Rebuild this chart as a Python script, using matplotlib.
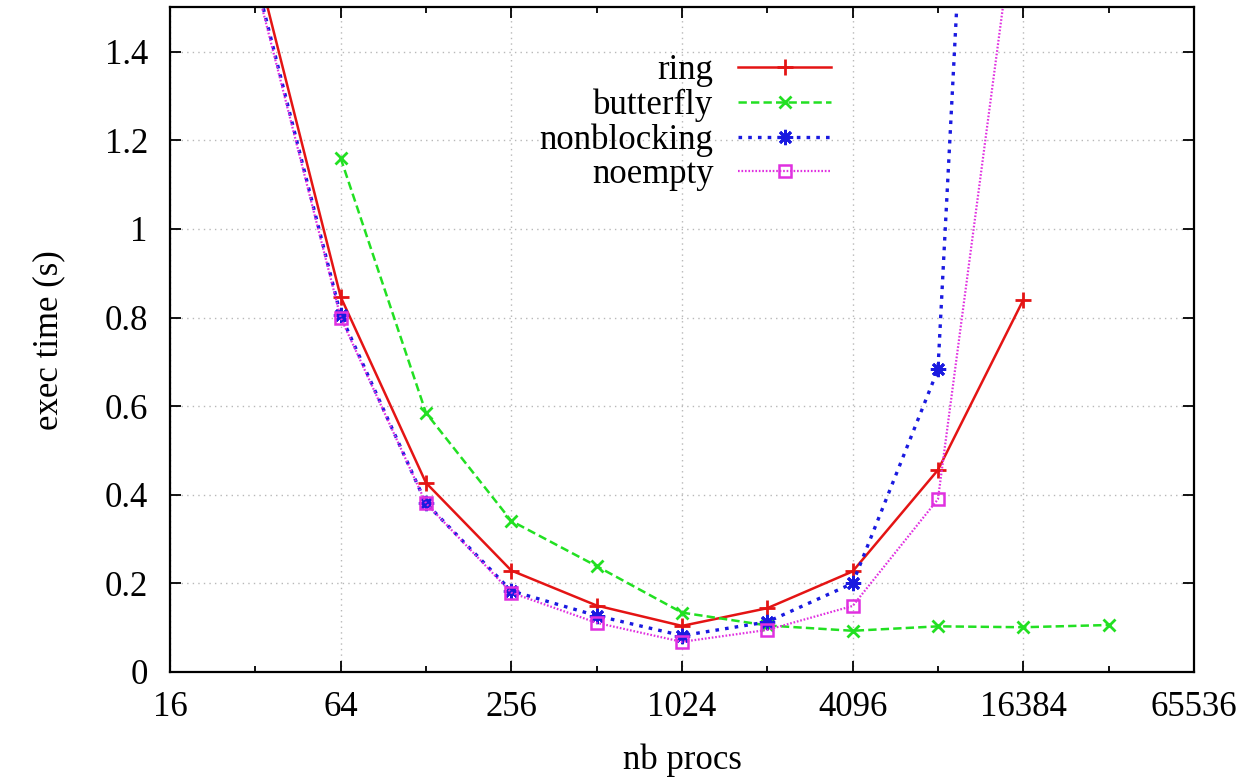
import numpy as np
import matplotlib
matplotlib.use("Agg")
from matplotlib import pyplot as plt
from matplotlib.ticker import FixedLocator, FuncFormatter

plt.rcParams['font.family'] = ['Liberation Serif', 'DejaVu Serif']
plt.rcParams['lines.scale_dashes'] = False

# data (exec time in seconds)
ring_x = [32, 64, 128, 256, 512, 1024, 2048, 4096, 8192, 16384]
ring_y = [1.61, 0.847, 0.427, 0.229, 0.150, 0.104, 0.144, 0.227, 0.456, 0.840]

butterfly_x = [64, 128, 256, 512, 1024, 2048, 4096, 8192, 16384, 32768]
butterfly_y = [1.160, 0.585, 0.341, 0.239, 0.134, 0.105, 0.093, 0.103, 0.101, 0.106]

nonblocking_x = [32, 64, 128, 256, 512, 1024, 2048, 4096, 8192, 16384]
nonblocking_y = [1.57, 0.806, 0.381, 0.183, 0.127, 0.082, 0.113, 0.200, 0.683, 4.4]

noempty_x = [32, 64, 128, 256, 512, 1024, 2048, 4096, 8192, 16384]
noempty_y = [1.56, 0.800, 0.381, 0.179, 0.111, 0.068, 0.095, 0.149, 0.390, 1.85]

xticks = [16, 64, 256, 1024, 4096, 16384, 65536]
xminor = [32, 128, 512, 2048, 8192, 32768]
yticks = [0, 0.2, 0.4, 0.6, 0.8, 1, 1.2, 1.4]

fig = plt.figure(figsize=(12.48, 7.81), dpi=100)
ax = fig.add_axes([0.1362, 0.1396, 0.8205, 0.8508])

ax.plot(ring_x, ring_y, color='#e41414', lw=1.8, ls='-', marker='+',
        ms=12, mew=2, label='ring')
ax.plot(butterfly_x, butterfly_y, color='#22e022', lw=1.8, dashes=(6, 3),
        marker='x', ms=9, mew=2, label='butterfly')
ax.plot(nonblocking_x, nonblocking_y, color='#1a1ae0', lw=2.4, dashes=(2.6, 4.4),
        marker=(8, 2, 0), ms=11, mew=2, label='nonblocking')
ax.plot(noempty_x, noempty_y, color='#e030e0', lw=1.6, dashes=(1.2, 1.3),
        marker='s', ms=9, mew=1.8, mfc='none', label='noempty')

ax.set_xscale('log', base=2)
ax.set_xlim(16, 65536)
ax.set_ylim(0, 1.5)
ax.xaxis.set_major_locator(FixedLocator(xticks))
ax.xaxis.set_minor_locator(FixedLocator(xminor))
ax.xaxis.set_major_formatter(FuncFormatter(lambda v, p: '%d' % v))
ax.xaxis.set_minor_formatter(FuncFormatter(lambda v, p: ''))
ax.yaxis.set_major_locator(FixedLocator(yticks))
ax.yaxis.set_major_formatter(FuncFormatter(lambda v, p: '%g' % v))

ax.tick_params(which='both', direction='in', top=True, right=True,
               labelsize=25, width=1.3)
ax.tick_params(which='major', length=8)
ax.tick_params(which='minor', length=4)
ax.tick_params(axis='x', pad=14)
ax.tick_params(axis='y', pad=16)

ax.grid(True, which='major', color='#b8b8b8', ls=(0, (1, 3)), lw=1)
for s in ax.spines.values():
    s.set_linewidth(1.6)

ax.set_xlabel('nb procs', fontsize=25, labelpad=14)
ax.set_ylabel('exec time (s)', fontsize=25, labelpad=28)

leg = ax.legend(loc='upper right', bbox_to_anchor=(0.646, 0.93), frameon=False,
                fontsize=25, markerfirst=False, handlelength=2.7,
                handletextpad=0.7, labelspacing=0.04, borderpad=0,
                borderaxespad=0)

fig.savefig('out.png', dpi=100)
